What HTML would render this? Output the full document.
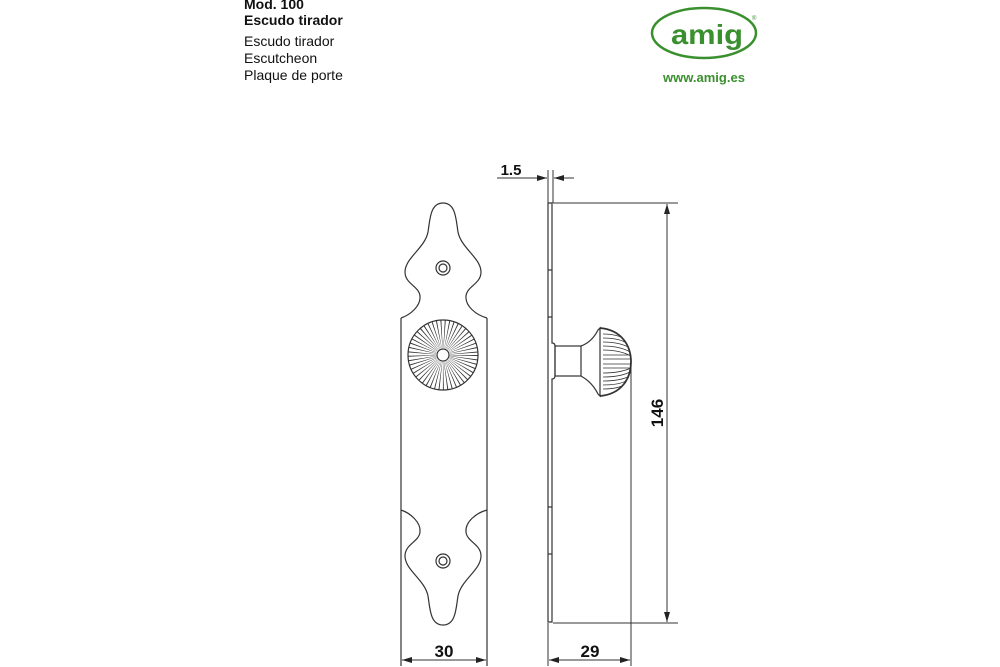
<!DOCTYPE html>
<html><head><meta charset="utf-8"><style>
html,body{margin:0;padding:0;background:#fff;}
body{width:1000px;height:667px;position:relative;overflow:hidden;font-family:"Liberation Sans",Arial,sans-serif;}
.t{position:absolute;left:244px;font-size:14px;color:#111;line-height:17px;}
</style></head><body>
<div class="t" style="top:-4px;font-weight:bold">Mod. 100</div>
<div class="t" style="top:12px;font-weight:bold">Escudo tirador</div>
<div class="t" style="top:33px">Escudo tirador</div>
<div class="t" style="top:50px">Escutcheon</div>
<div class="t" style="top:67px">Plaque de porte</div>
<svg width="1000" height="667" style="position:absolute;left:0;top:0" xmlns="http://www.w3.org/2000/svg">
<defs>
<marker id="a" viewBox="0 0 10 6" refX="10" refY="3" markerWidth="10" markerHeight="6" markerUnits="userSpaceOnUse" orient="auto"><path d="M0,0L10,3L0,6z" fill="#222"/></marker>
<clipPath id="dome"><path d="M600,328 C622,330 631,346 631,362 C631,378 622,394 600,396 Z"/></clipPath>
</defs>
<!-- logo -->
<ellipse cx="704" cy="33" rx="52" ry="25" fill="none" stroke="#3a8f2e" stroke-width="2.5"/>
<text x="671" y="44" textLength="72" lengthAdjust="spacingAndGlyphs" font-family="Liberation Sans" font-weight="bold" font-size="28" fill="#3a8f2e">amig</text>
<text x="752" y="20" font-size="6" fill="#3a8f2e" font-family="Liberation Sans">®</text>
<text x="704" y="82" text-anchor="middle" font-family="Liberation Sans" font-weight="bold" font-size="13" fill="#3a8f2e">www.amig.es</text>

<g fill="none" stroke="#333" stroke-width="1.2">
<!-- front plate -->
<path d="M401,318 C410,315 421,306 420,296 C419,286 405,284 405,272 C405,258 425,248 428,232 C430,220 430,203 443,203 C456,203 456,220 458,232 C461,248 481,258 481,272 C481,284 467,286 466,296 C465,306 476,315 487,318"/>
<path transform="translate(0,828) scale(1,-1)" d="M401,318 C410,315 421,306 420,296 C419,286 405,284 405,272 C405,258 425,248 428,232 C430,220 430,203 443,203 C456,203 456,220 458,232 C461,248 481,258 481,272 C481,284 467,286 466,296 C465,306 476,315 487,318"/>
<line x1="401" y1="318" x2="401" y2="666"/>
<line x1="487" y1="318" x2="487" y2="666"/>
<circle cx="443" cy="268" r="7"/><circle cx="443" cy="268" r="4"/>
<circle cx="443" cy="561" r="7"/><circle cx="443" cy="561" r="4"/>
<circle cx="443" cy="355" r="35"/>
<circle cx="443" cy="355" r="21" stroke-width="28" stroke-dasharray="0.6 2.1" stroke="#333"/>
<circle cx="443" cy="355" r="6" fill="#fff"/>
<!-- side plate -->
<path d="M548,203 L552,203 L552,343 Q555,343 555,346 L555,376 Q555,379 552,379 L552,622 L548,622 Z"/>
<line x1="548" y1="270" x2="552" y2="270"/><line x1="548" y1="317" x2="552" y2="317"/>
<line x1="548" y1="507" x2="552" y2="507"/><line x1="548" y1="554" x2="552" y2="554"/>
<rect x="555" y="346" width="26" height="30"/>
<path d="M581,346 Q592,342 598,330 L600,328 L600,396 L598,394 Q592,382 581,376"/>
<path d="M600,328 C622,330 631,346 631,362 C631,378 622,394 600,396" stroke-width="1.8"/>
<g clip-path="url(#dome)" stroke-width="0.8">
<path d="M603,334 Q618,334 626,340"/><path d="M603,338 Q620,338 628,344"/><path d="M603,342 Q620,342 630,348"/><path d="M603,346 Q620,346 630,352"/><path d="M603,350 Q620,350 631,356"/><path d="M603,355 L631,355"/><path d="M603,359 L631,359"/><path d="M603,364 L631,364"/><path d="M603,368 L631,368"/><path d="M603,373 Q620,373 631,368"/><path d="M603,377 Q620,377 630,372"/><path d="M603,381 Q620,381 630,376"/><path d="M603,385 Q620,385 628,380"/><path d="M603,389 Q618,389 626,384"/>
</g>
<line x1="631" y1="362" x2="631" y2="666" stroke-width="1"/>
<!-- dims -->
<g stroke-width="1">
<line x1="553" y1="203" x2="678" y2="203"/>
<line x1="553" y1="623" x2="678" y2="623"/>
<line x1="667" y1="620" x2="667" y2="204" marker-end="url(#a)"/>
<line x1="667" y1="210" x2="667" y2="622" marker-end="url(#a)"/>
<line x1="548" y1="170" x2="548" y2="203"/><line x1="553" y1="170" x2="553" y2="203"/>
<line x1="497" y1="178" x2="547" y2="178" marker-end="url(#a)"/>
<line x1="574" y1="178" x2="554" y2="178" marker-end="url(#a)"/>
<line x1="548" y1="623" x2="548" y2="666"/>
<line x1="440" y1="660" x2="402" y2="660" marker-end="url(#a)"/>
<line x1="440" y1="660" x2="486" y2="660" marker-end="url(#a)"/>
<line x1="590" y1="660" x2="549" y2="660" marker-end="url(#a)"/>
<line x1="590" y1="660" x2="630" y2="660" marker-end="url(#a)"/>
</g>
</g>
<g font-family="Liberation Sans" font-weight="bold" font-size="17" fill="#111">
<text x="511" y="175" text-anchor="middle" font-size="15">1.5</text>
<text x="444" y="657" text-anchor="middle">30</text>
<text x="590" y="657" text-anchor="middle">29</text>
<text transform="translate(663,413) rotate(-90)" text-anchor="middle">146</text>
</g>
</svg>
</body></html>
